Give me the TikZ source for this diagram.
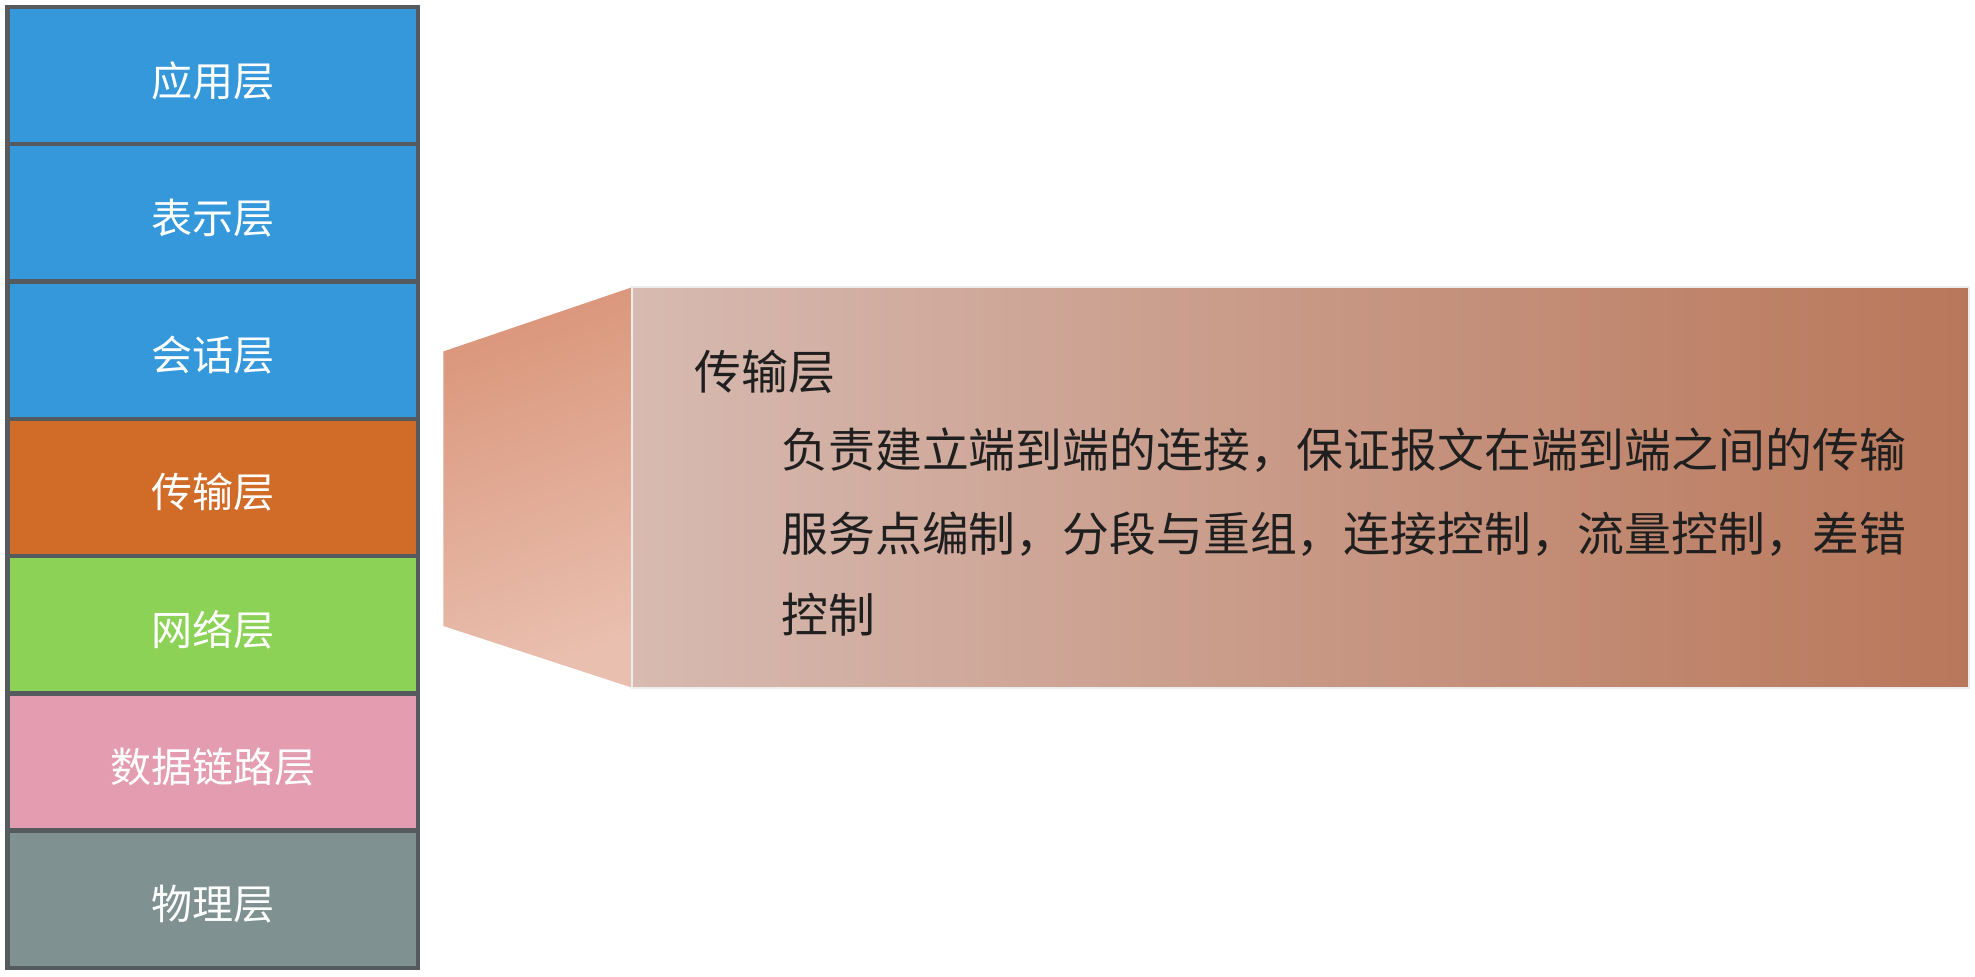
\documentclass[tikz,border=0pt]{standalone}
\usepackage{fontspec}
\setmainfont{Noto Sans CJK SC}
\newfontfamily\cjk{Noto Sans CJK SC}
\definecolor{layblue}{HTML}{3498DB}
\definecolor{layorange}{HTML}{D16B28}
\definecolor{laygreen}{HTML}{8BD257}
\definecolor{laypink}{HTML}{E39CB0}
\definecolor{laygray}{HTML}{7F9190}
\definecolor{layborder}{HTML}{555A5F}
\definecolor{sideA}{HTML}{E9BFAF}
\definecolor{sideB}{HTML}{DA967B}
\definecolor{boxL}{HTML}{D7BAB1}
\definecolor{boxR}{HTML}{B9775A}
\tikzset{
  layer/.style={draw=layborder, line width=1.8pt, minimum width=163pt, minimum height=54.5pt, inner sep=0pt, text=white, font=\cjk\fontsize{16.3pt}{18pt}\selectfont},
  lbl/.style={inner sep=0pt, text=white, font=\cjk\fontsize{16.3pt}{18pt}\selectfont},
  desc/.style={anchor=west, inner sep=0pt, text=black!88, font=\cjk\fontsize{18.6pt}{22pt}\selectfont}
}
\begin{document}
\begin{tikzpicture}[x=0.5pt,y=-0.5pt]
\useasboundingbox (0,0) rectangle (1568,775);
% layers
\node[layer, fill=layblue]   (app)  at (169,60)  {};
\node[layer, fill=layblue]   (pres) at (169,169) {};
\node[layer, fill=layblue]   (sess) at (169,278) {};
\node[layer, fill=layorange] (tran) at (169,387) {};
\node[layer, fill=laygreen]  (net)  at (169,496) {};
\node[layer, fill=laypink]   (link) at (169,605) {};
\node[layer, fill=laygray]   (phy)  at (169,714) {};
\node[lbl] (tapp)  at ([yshift=-2pt]app.center)  {应用层};
\node[lbl] (tpres) at ([yshift=-2pt]pres.center) {表示层};
\node[lbl] (tsess) at ([yshift=-2pt]sess.center) {会话层};
\node[lbl] (ttran) at ([yshift=-2pt]tran.center) {传输层};
\node[lbl] (tnet)  at ([yshift=-2pt]net.center)  {网络层};
\node[lbl] (tlink) at ([yshift=-2pt]link.center) {数据链路层};
\node[lbl] (tphy)  at ([yshift=-2pt]phy.center)  {物理层};
% callout side
\coordinate (s1) at (352,279);
\coordinate (s2) at (502,228);
\coordinate (s3) at (502,546);
\coordinate (s4) at (352,497);
\shade[shading=axis, top color=sideB, bottom color=sideA, shading angle=20] (s1) -- (s2) -- (s3) -- (s4) -- cycle;
% callout box
\coordinate (b1) at (502,228);
\coordinate (b2) at (1563,546);
\shade[left color=boxL, right color=boxR] (b1) rectangle (b2);
\draw[white!85!gray, line width=0.8pt] (b1) rectangle (b2);
% text
\node[desc] (title) at (551,295) {传输层};
\node[desc] (l1) at (620,357) {负责建立端到端的连接，保证报文在端到端之间的传输};
\node[desc] (l2) at (620,424) {服务点编制，分段与重组，连接控制，流量控制，差错};
\node[desc] (l3) at (620,488) {控制};
\end{tikzpicture}
\end{document}
